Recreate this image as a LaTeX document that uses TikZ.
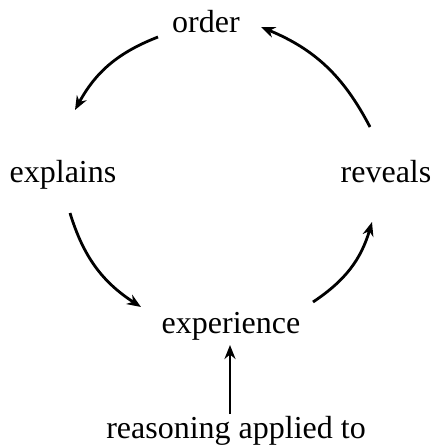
\documentclass[tikz,border=0pt]{standalone}
\usepackage{fontspec}
\setmainfont{Liberation Serif}
\usetikzlibrary{arrows.meta}
\begin{document}
\begin{tikzpicture}[x=1pt,y=-1pt,
  lbl/.style={anchor=base,inner sep=0pt,font=\fontsize{32}{36}\selectfont},
  arr/.style={line width=2.8pt,-{Stealth[length=14pt,width=11pt,inset=4.5pt]}}]
\useasboundingbox (0,0) rectangle (434,448);
\node[lbl] (order) at (206,32) {order};
\node[lbl] (explains) at (63,182) {explains};
\node[lbl] (reveals) at (386,182) {reveals};
\node[lbl] (experience) at (231,333) {experience};
\node[lbl] (reasoning) at (236,438) {reasoning applied to};
\coordinate (a1s) at (158,37);  \coordinate (a1e) at (75,110);
\coordinate (a2s) at (370,127); \coordinate (a2e) at (261,27);
\coordinate (a3s) at (70,213);  \coordinate (a3e) at (141,307);
\coordinate (a4s) at (313,302); \coordinate (a4e) at (372,222);
\coordinate (a5s) at (230,414); \coordinate (a5e) at (230,345);
\draw[arr] (a1s) to[bend right=20] (a1e);
\draw[arr] (a2s) to[bend right=20] (a2e);
\draw[arr] (a3s) to[bend right=20] (a3e);
\draw[arr] (a4s) to[bend right=20] (a4e);
\draw[arr] (a5s) -- (a5e);
\end{tikzpicture}
\end{document}
